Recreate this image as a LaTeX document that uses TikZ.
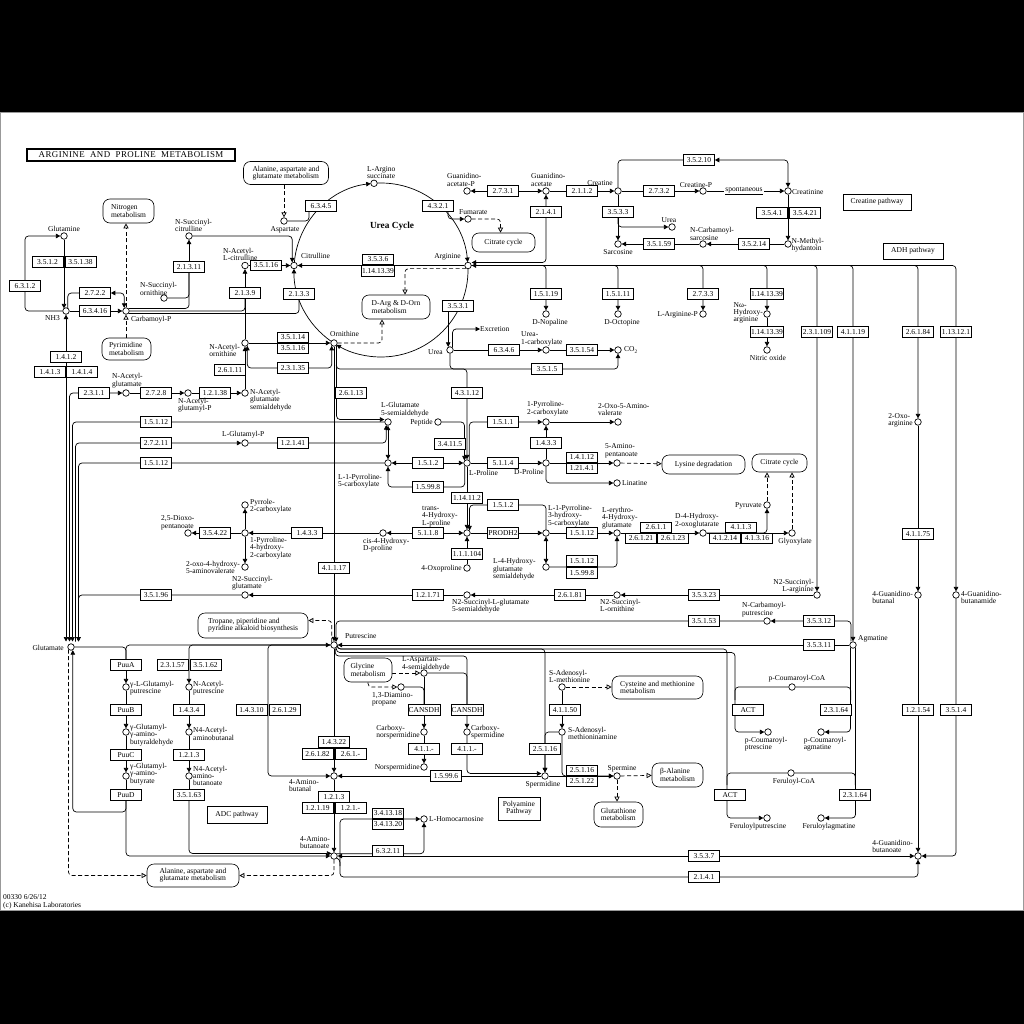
\documentclass[tikz,border=0pt]{standalone}
\usepackage{fontspec}
\setmainfont{Liberation Serif}
\newfontfamily\titlefont[LetterSpace=5]{Liberation Serif}
\usetikzlibrary{arrows.meta}
\pgfdeclarelayer{bg}
\pgfsetlayers{bg,main}
\newcommand\kf{\fontsize{7.5}{7.3}\selectfont}
\tikzset{
  enz/.style={draw, fill=white, line width=0.6pt, minimum width=31pt, minimum height=10.5pt, inner sep=0.5pt, font=\kf},
  cpd/.style={draw, circle, fill=white, line width=0.7pt, minimum size=6.5pt, inner sep=0pt},
  mapbox/.style={draw, fill=white, rounded corners=7pt, line width=0.6pt, align=left, inner sep=1pt, font=\kf},
  pbox/.style={draw, fill=white, line width=0.6pt, align=center, inner sep=2pt, font=\kf},
  lbl/.style={inner sep=0pt, font=\kf, align=left},
  ar/.style={-{Triangle[length=4.5pt,width=4.5pt]}},
  ar2/.style={{Triangle[length=4.5pt,width=4.5pt]}-{Triangle[length=4.5pt,width=4.5pt]}},
  dsh/.style={dash pattern=on 4pt off 2.5pt, -{Triangle[open,length=5pt,width=5pt]}},
  rc/.style={rounded corners=3.5pt}
}
\newcommand\cpdn[2]{\node[cpd] (#1) at (#2) {};}
\newcommand\ez[3]{\node[enz] (#1) at (#2) {#3};}
\newcommand\lb[4]{\node[lbl,anchor=#2] (#1) at (#3) {#4};}
\begin{document}
\begin{tikzpicture}[x=1pt,y=-1pt]
\useasboundingbox (0,0) rectangle (1024,1024);
\begin{pgfonlayer}{bg}
\fill[black] (0,0) rectangle (1024,112);
\fill[black] (0,911) rectangle (1024,1024);
\draw[black!40, line width=1pt] (0.5,112.5) rectangle (1023.5,910.5);
\end{pgfonlayer}

% ---------- title, maps, plain boxes
\node[draw, line width=1.8pt, minimum width=208pt, minimum height=12.5pt, inner sep=0pt, font=\titlefont\fontsize{8.9}{8.9}\selectfont] (title) at (131,155) {ARGININE\ \ AND\ \ PROLINE\ \ METABOLISM};
\node[mapbox, minimum width=85pt, minimum height=23pt] (mAAG1) at (286,173) {Alanine, aspartate and\\glutamate metabolism};
\node[mapbox, minimum width=51pt, minimum height=24pt] (mNit) at (128.5,211) {Nitrogen\\metabolism};
\node[mapbox, minimum width=49pt, minimum height=22pt] (mPyr) at (126.5,349) {Pyrimidine\\metabolism};
\node[mapbox, minimum width=68pt, minimum height=24pt] (mDArg) at (396,307) {D-Arg \& D-Orn\\metabolism};
\node[mapbox, minimum width=63pt, minimum height=19pt] (mCit1) at (503.5,242.5) {Citrate cycle};
\node[mapbox, minimum width=83pt, minimum height=19pt] (mLys) at (703.5,464.5) {Lysine degradation};
\node[mapbox, minimum width=55pt, minimum height=18pt] (mCit2) at (779.5,463) {Citrate cycle};
\node[mapbox, minimum width=110pt, minimum height=25pt] (mTrop) at (253,625.5) {Tropane, piperidine and\\pyridine alkaloid biosynthesis};
\node[mapbox, minimum width=48pt, minimum height=24pt] (mGly) at (368,670) {Glycine\\metabolism};
\node[mapbox, minimum width=91pt, minimum height=23pt] (mCys) at (657.5,687.5) {Cysteine and methionine\\metabolism};
\node[mapbox, minimum width=51pt, minimum height=24pt] (mBAla) at (677.5,775) {β-Alanine\\metabolism};
\node[mapbox, minimum width=49pt, minimum height=25pt] (mGlut) at (618.5,814.5) {Glutathione\\metabolism};
\node[mapbox, minimum width=92pt, minimum height=23pt] (mAAG2) at (193,875.5) {Alanine, aspartate and\\glutamate metabolism};
\node[pbox, minimum width=68pt, minimum height=16pt] (pCre) at (877,202) {Creatine pathway};
\node[pbox, minimum width=60pt, minimum height=16pt] (pADH) at (913,251) {ADH pathway};
\node[pbox, minimum width=60pt, minimum height=17pt] (pADC) at (237,814.5) {ADC pathway};
\node[pbox, minimum width=42pt, minimum height=23pt] (pPoly) at (519,808.5) {Polyamine\\Pathway};
\node[inner sep=0pt, font=\fontsize{9.3}{9.3}\selectfont\bfseries] (uct) at (392,226) {Urea Cycle};
\node[lbl, anchor=south west] (foot) at (3,909) {00330 6/26/12\\(c) Kanehisa Laboratories};
\node[lbl, anchor=west] (excr) at (480,329) {Excretion};
\node[lbl, fill=white, inner sep=1pt] (spont) at (744,191) {\underline{spontaneous}};
\coordinate (uc) at (381,270);

% ---------- compounds
\cpdn{gln}{64,236} \cpdn{nh3}{66,311} \cpdn{cp}{126,311} \cpdn{nscit}{189,236} \cpdn{nsorn}{164,298}
\cpdn{nacit}{245,265.5} \cpdn{nacorn}{245,343} \cpdn{cit}{294,265.5} \cpdn{asp}{284,221} \cpdn{argsuc}{374,183.3}
\cpdn{fum}{468,219} \cpdn{arg}{468,265.5} \cpdn{orn}{334,343} \cpdn{urea1}{450,350}
\cpdn{gaap}{467,191} \cpdn{gaa}{546,191} \cpdn{crt}{618,191} \cpdn{crtp}{703,191} \cpdn{crtn}{788,191}
\cpdn{sarc}{618,244} \cpdn{urea2}{672,227} \cpdn{ncs}{703,244} \cpdn{nmh}{788,244}
\cpdn{dnop}{546,314} \cpdn{doct}{618,314} \cpdn{argp}{703,314} \cpdn{nohar}{767,314} \cpdn{no}{767,350}
\cpdn{urcarb}{546,350} \cpdn{co2}{618,350}
\cpdn{nag}{126,393} \cpdn{nagp}{188,393} \cpdn{nags}{245,393} \cpdn{glup}{245,443} \cpdn{g5s}{388,422}
\cpdn{pep}{438,422} \cpdn{pro}{467,463} \cpdn{p5c}{388,463} \cpdn{p2c}{546,422} \cpdn{oxav}{618,422}
\cpdn{dpro}{546,463} \cpdn{amp}{617,463} \cpdn{lin}{617,483} \cpdn{pyr}{245,505} \cpdn{ph2c}{245,533}
\cpdn{dioxo}{188,533} \cpdn{ohav}{245,567} \cpdn{cis}{383,533} \cpdn{trans}{467,533} \cpdn{oxopro}{467,568}
\cpdn{lphc}{546,533} \cpdn{ehg}{617,533} \cpdn{hgs}{546,567} \cpdn{dhog}{703,533} \cpdn{pyrv}{767,505}
\cpdn{glyox}{792,533} \cpdn{nsglu}{245,595} \cpdn{nsgs}{467,595} \cpdn{nsorn2}{617,595} \cpdn{nsarg}{817,595}
\cpdn{oxarg}{918,422} \cpdn{gbal}{918,595} \cpdn{gbam}{956,595} \cpdn{agm}{853,645} \cpdn{ncput}{767,621}
\cpdn{put}{334,645} \cpdn{glu}{71,647}
\cpdn{glput}{126,687} \cpdn{ggab}{126,732} \cpdn{gga}{126,776} \cpdn{nacput}{189,687} \cpdn{naab}{189,732}
\cpdn{naabo}{189,776} \cpdn{gabal}{334,776} \cpdn{gaba}{334,856} \cpdn{hc}{424,819} \cpdn{asa}{424,673}
\cpdn{dap}{401,687} \cpdn{cnspd}{424,732} \cpdn{nspd}{424,767} \cpdn{cspd}{467,732} \cpdn{sam}{562,687}
\cpdn{dsam}{562,732} \cpdn{spd}{545,776} \cpdn{spm}{617,776} \cpdn{pcoa}{792,687} \cpdn{pcput}{768,732}
\cpdn{pcagm}{821,732} \cpdn{fcoa}{791,773} \cpdn{fput}{767,818} \cpdn{fagm}{821,818} \cpdn{gbut}{918,856}

% ---------- enzymes
\ez{e3512}{47.5,262}{3.5.1.2} \ez{e35138}{80.5,262}{3.5.1.38} \ez{e6312}{25,286}{6.3.1.2}
\ez{e2722}{95,293}{2.7.2.2} \ez{e63416}{95,311}{6.3.4.16} \ez{e1412}{66,357}{1.4.1.2}
\ez{e1413}{50,372}{1.4.1.3} \ez{e1414}{82,372}{1.4.1.4} \ez{e21311}{189,267}{2.1.3.11}
\ez{e35116a}{266,265.5}{3.5.1.16} \ez{e2139}{245,293}{2.1.3.9} \ez{e2133}{299,294}{2.1.3.3}
\ez{e6345}{321,206}{6.3.4.5} \ez{e4321}{438,206}{4.3.2.1} \ez{e3536}{378,259.5}{3.5.3.6}
\ez{e1141339c}{378,271}{1.14.13.39} \ez{e35114}{293,337.5}{3.5.1.14} \ez{e35116b}{293,348.5}{3.5.1.16}
\ez{e23135}{293,368}{2.3.1.35} \ez{e26111}{230,370}{2.6.1.11} \ez{e3531}{458,306}{3.5.3.1}
\ez{e6346}{504,350}{6.3.4.6} \ez{e35154}{582,350}{3.5.1.54} \ez{e3515}{547,369}{3.5.1.5}
\ez{e2731}{503,191}{2.7.3.1} \ez{e2112}{582,191}{2.1.1.2} \ez{e2732}{659,191}{2.7.3.2}
\ez{e35210}{699,160}{3.5.2.10} \ez{e3533}{618,212}{3.5.3.3} \ez{e3541}{772,213}{3.5.4.1}
\ez{e35421}{805,213}{3.5.4.21} \ez{e2141a}{546,212}{2.1.4.1} \ez{e35159}{659,244}{3.5.1.59}
\ez{e35214}{754,244}{3.5.2.14} \ez{e15119}{546,294}{1.5.1.19} \ez{e15111}{618,294}{1.5.1.11}
\ez{e2733}{703,294}{2.7.3.3} \ez{e1141339a}{767,294}{1.14.13.39} \ez{e1141339b}{767,332}{1.14.13.39}
\ez{e231109}{817,332}{2.3.1.109} \ez{e41119}{853,332}{4.1.1.19} \ez{e26184}{918,332}{2.6.1.84}
\ez{e113121}{956,332}{1.13.12.1}
\ez{e2311}{94,393}{2.3.1.1} \ez{e2728}{156,393}{2.7.2.8} \ez{e12138}{215,393}{1.2.1.38}
\ez{e15112a}{156,422}{1.5.1.12} \ez{e27211}{156,443}{2.7.2.11} \ez{e15112b}{156,463}{1.5.1.12}
\ez{e12141}{293,443}{1.2.1.41} \ez{e26113}{351,393}{2.6.1.13} \ez{e43112}{467,393}{4.3.1.12}
\ez{e34115}{450,444}{3.4.11.5} \ez{e1512a}{428,463}{1.5.1.2} \ez{e15998a}{428,487}{1.5.99.8}
\ez{e1511}{503,422}{1.5.1.1} \ez{e5114}{503,463}{5.1.1.4} \ez{e1433b}{546,443}{1.4.3.3}
\ez{e14112}{582,457.5}{1.4.1.12} \ez{e12141b}{582,468.5}{1.21.4.1} \ez{e1512b}{503,505}{1.5.1.2}
\ez{e14112b}{467,498}{1.14.11.2} \ez{e11104}{467,554}{1.1.1.104} \ez{e1433a}{307,533}{1.4.3.3}
\ez{e35422}{215,533}{3.5.4.22} \ez{e5118}{428,533}{5.1.1.8} \ez{eprodh}{503,533}{PRODH2}
\ez{e15112c}{582,533}{1.5.1.12} \ez{e15112d}{582,561}{1.5.1.12} \ez{e15998b}{582,573}{1.5.99.8}
\ez{e2611}{656,527.5}{2.6.1.1} \ez{e26121}{641,538.5}{2.6.1.21} \ez{e26123}{673,538.5}{2.6.1.23}
\ez{e4113}{741,527.5}{4.1.1.3} \ez{e41214}{725,538.5}{4.1.2.14} \ez{e41316}{757,538.5}{4.1.3.16}
\ez{e12171}{428,595}{1.2.1.71} \ez{e35196}{156,595}{3.5.1.96} \ez{e26181}{570,595}{2.6.1.81}
\ez{e35323}{704,595}{3.5.3.23} \ez{e4175}{918,534}{4.1.1.75} \ez{e41117}{334,568}{4.1.1.17}
\ez{e35153}{704,621}{3.5.1.53} \ez{e35312}{819,621}{3.5.3.12} \ez{e35311}{819,645}{3.5.3.11}
\ez{puua}{126,665}{PuuA} \ez{puub}{126,710}{PuuB} \ez{puuc}{126,755}{PuuC} \ez{puud}{126,795}{PuuD}
\ez{e23157}{172.5,665}{2.3.1.57} \ez{e35162}{205.5,665}{3.5.1.62} \ez{e1434}{189,710}{1.4.3.4}
\ez{e1213a}{189,755}{1.2.1.3} \ez{e35163}{189,795}{3.5.1.63} \ez{e14310}{251.5,710}{1.4.3.10}
\ez{e26129}{284.5,710}{2.6.1.29} \ez{e14322}{334,742}{1.4.3.22} \ez{e26182}{317.5,754}{2.6.1.82}
\ez{e2611x}{350.5,754}{2.6.1.-} \ez{e1213b}{334,797}{1.2.1.3} \ez{e12119}{317.5,808}{1.2.1.19}
\ez{e121x}{350.5,808}{1.2.1.-} \ez{e341318}{388,813.5}{3.4.13.18} \ez{e341320}{388,824.5}{3.4.13.20}
\ez{e63211}{388,851}{6.3.2.11} \ez{e15996}{446,776}{1.5.99.6} \ez{cansdh1}{424,710}{CANSDH}
\ez{cansdh2}{467,710}{CANSDH} \ez{e411a}{424,749}{4.1.1.-} \ez{e411b}{467,749}{4.1.1.-}
\ez{e41150}{565,710}{4.1.1.50} \ez{e25116a}{545,749}{2.5.1.16} \ez{e25116b}{582,770.5}{2.5.1.16}
\ez{e25122}{582,781.5}{2.5.1.22} \ez{act1}{748,710}{ACT} \ez{act2}{730,795}{ACT}
\ez{e23164a}{836,710}{2.3.1.64} \ez{e23164b}{855,795}{2.3.1.64} \ez{e12154}{918,710}{1.2.1.54}
\ez{e3514}{956,710}{3.5.1.4} \ez{e3537}{704,856}{3.5.3.7} \ez{e2141b}{704,877}{2.1.4.1}

% ---------- compound labels
\lb{lgln}{south}{64,231.5}{Glutamine}
\lb{lnh3}{east}{60,318.5}{NH3}
\lb{lcp}{west}{131,319.5}{Carbamoyl-P}
\lb{lnscit}{south west}{175,232}{N-Succinyl-\\citrulline}
\lb{lnsorn}{south west}{140,295.5}{N-Succinyl-\\ornithine}
\lb{lnacit}{south west}{223,261}{N-Acetyl-\\L-citrulline}
\lb{lnacorn}{north east}{240,344}{N-Acetyl-\\ornithine}
\lb{lcit}{west}{301,256}{Citrulline}
\lb{lasp}{north}{285,226}{Aspartate}
\lb{largsuc}{south west}{367,179}{L-Argino\\succinate}
\lb{lfum}{south west}{459,215}{Fumarate}
\lb{larg}{south east}{461,260.5}{Arginine}
\lb{lorn}{south west}{330,337}{Ornithine}
\lb{lurea1}{east}{443,352}{Urea}
\lb{lgaap}{south west}{447,186.5}{Guanidino-\\acetate-P}
\lb{lgaa}{south west}{531,186.5}{Guanidino-\\acetate}
\lb{lcrt}{south east}{613,185.5}{Creatine}
\lb{lcrtp}{south}{696,187.5}{Creatine-P}
\lb{lcrtn}{west}{792,192}{Creatinine}
\lb{lsarc}{north}{618,249.5}{Sarcosine}
\lb{lurea2}{south}{669,222.5}{Urea}
\lb{lncs}{south west}{690,240.5}{N-Carbamoyl-\\sarcosine}
\lb{lnmh}{west}{791.5,245}{N-Methyl-\\hydantoin}
\lb{ldnop}{north}{550,319.5}{D-Nopaline}
\lb{ldoct}{north}{622,319.5}{D-Octopine}
\lb{largp}{east}{698,314.5}{L-Arginine-P}
\lb{lnohar}{east}{763,313}{Nω-\\Hydroxy-\\arginine}
\lb{lno}{north}{768,355}{Nitric oxide}
\lb{lurcarb}{south west}{521,346}{Urea-\\1-carboxylate}
\lb{lco2}{west}{624,350}{CO\textsubscript{2}}
\lb{lnag}{south west}{112,388}{N-Acetyl-\\glutamate}
\lb{lnagp}{north west}{178,398}{N-Acetyl-\\glutamyl-P}
\lb{lnags}{north west}{250,389}{N-Acetyl-\\glutamate\\semialdehyde}
\lb{lglup}{south west}{222,438.5}{L-Glutamyl-P}
\lb{lg5s}{south west}{381,417}{L-Glutamate\\5-semialdehyde}
\lb{lpep}{east}{433,422.5}{Peptide}
\lb{lpro}{north west}{469,470}{L-Proline}
\lb{lp5c}{north west}{338,474}{L-1-Pyrroline-\\5-carboxylate}
\lb{lp2c}{south west}{527,416}{1-Pyrroline-\\2-carboxylate}
\lb{loxav}{south west}{598,416}{2-Oxo-5-Amino-\\valerate}
\lb{ldpro}{north east}{544,469.5}{D-Proline}
\lb{lamp}{south west}{605,458}{5-Amino-\\pentanoate}
\lb{llin}{west}{622,483.5}{Linatine}
\lb{lpyr}{west}{250,506}{Pyrrole-\\2-carboxylate}
\lb{lph2c}{north west}{250,537}{1-Pyrroline-\\4-hydroxy-\\2-carboxylate}
\lb{ldioxo}{south west}{161,530}{2,5-Dioxo-\\pentanoate}
\lb{lohav}{east}{240,567.5}{2-oxo-4-hydroxy-\\5-aminovalerate}
\lb{lcis}{north west}{363,538}{cis-4-Hydroxy-\\D-proline}
\lb{ltrans}{south west}{422,527}{trans-\\4-Hydroxy-\\L-proline}
\lb{loxopro}{east}{462,568.5}{4-Oxoproline}
\lb{llphc}{south west}{548,527}{L-1-Pyrroline-\\3-hydroxy-\\5-carboxylate}
\lb{lehg}{south west}{602,529}{L-erythro-\\4-Hydroxy-\\glutamate}
\lb{lhgs}{north west}{493,558.5}{L-4-Hydroxy-\\glutamate\\semialdehyde}
\lb{ldhog}{south west}{675,528}{D-4-Hydroxy-\\2-oxoglutarate}
\lb{lpyrv}{east}{762,505.5}{Pyruvate}
\lb{lglyox}{north}{795,538}{Glyoxylate}
\lb{lnsglu}{south west}{232,590.5}{N2-Succinyl-\\glutamate}
\lb{lnsgs}{north west}{452,599}{N2-Succinyl-L-glutamate\\5-semialdehyde}
\lb{lnsorn2}{north west}{600,599}{N2-Succinyl-\\L-ornithine}
\node[lbl, align=right, anchor=south east] (lnsarg) at (814,593.5) {N2-Succinyl-\\L-arginine};
\lb{loxarg}{east}{913,420.5}{2-Oxo-\\arginine}
\lb{lgbal}{east}{913,597.5}{4-Guanidino-\\butanal}
\lb{lgbam}{west}{961,597.5}{4-Guanidino-\\butanamide}
\lb{lagm}{west}{858,638.5}{Agmatine}
\lb{lncput}{south west}{742,617}{N-Carbamoyl-\\putrescine}
\lb{lput}{west}{345,636}{Putrescine}
\lb{lglu}{east}{64,648}{Glutamate}
\lb{lglput}{west}{130,688}{γ-L-Glutamyl-\\putrescine}
\lb{lggab}{west}{130,735}{γ-Glutamyl-\\γ-amino-\\butyraldehyde}
\lb{lgga}{west}{130,774}{γ-Glutamyl-\\γ-amino-\\butyrate}
\lb{lnacput}{west}{193,688}{N-Acetyl-\\putrescine}
\lb{lnaab}{west}{193,734}{N4-Acetyl-\\aminobutanal}
\lb{lnaabo}{west}{193,776}{N4-Acetyl-\\amino-\\butanoate}
\lb{lgabal}{north east}{319,779}{4-Amino-\\butanal}
\lb{lgaba}{south east}{330,849}{4-Amino-\\butanoate}
\lb{lhc}{west}{429,819.5}{L-Homocarnosine}
\lb{lasa}{south west}{402,671}{L-Aspartate-\\4-semialdehyde}
\lb{ldap}{north west}{372,692}{1,3-Diamino-\\propane}
\lb{lcnspd}{east}{420,732.5}{Carboxy-\\norspermidine}
\lb{lnspd}{east}{420,767.5}{Norspermidine}
\lb{lcspd}{west}{471,732.5}{Carboxy-\\spermidine}
\lb{lsam}{south west}{549,683}{S-Adenosyl-\\L-methionine}
\lb{ldsam}{west}{568,733.5}{S-Adenosyl-\\methioninamine}
\lb{lspd}{north}{543,781}{Spermidine}
\lb{lspm}{south}{622,772}{Spermine}
\lb{lpcoa}{south}{797,682.5}{p-Coumaroyl-CoA}
\lb{lpcput}{north}{766,737}{p-Coumaroyl-\\ptrescine}
\lb{lpcagm}{north}{825,737}{p-Coumaroyl-\\agmatine}
\lb{lfcoa}{north}{794,778}{Feruloyl-CoA}
\lb{lfput}{north}{758,823}{Feruloylputrescine}
\lb{lfagm}{north}{829,823}{Feruloylagmatine}
\lb{lgbut}{south east}{913,853}{4-Guanidino-\\butanoate}

\coordinate (g1) at (66,641.5);
\coordinate (g2) at (69.5,641.5);
\coordinate (g3) at (72.5,641.5);
\coordinate (g4) at (75.5,641.5);
\coordinate (g5) at (78.5,641.5);
\coordinate (hcj) at (340,866);

% ---------- connectors
\begin{pgfonlayer}{bg}
\begin{scope}[line width=0.7pt]
% urea cycle
\draw[ar] ([shift={(185.2:87)}]uc) arc[start angle=185.2, end angle=263.2, radius=87];
\draw[ar] ([shift={(267.6:87)}]uc) arc[start angle=267.6, end angle=354.8, radius=87];
\draw[ar] ([shift={(359.2:87)}]uc) arc[start angle=359.2, end angle=480.8, radius=87];
\draw[ar] ([shift={(125.2:87)}]uc) arc[start angle=125.2, end angle=180.8, radius=87];
\draw[rc] (asp.east) -| ([xshift=-12pt]e6345.south);
\draw[dsh] (mAAG1.south -| asp) -- (asp.north);
\draw[ar, rc] ([xshift=10pt]e4321.south) |- (fum.west);
\draw[dsh, rc] (fum.east) -| ([xshift=-3pt]mCit1.north);
\draw[ar] (arg) -- (cit);
\draw[dsh, rc] (arg.-120) -| ([xshift=9pt]mDArg.north);
\draw[dsh, rc] (orn.east) -| ([xshift=-14pt]mDArg.south);
\draw[ar] (e3531.south -| urea1.120) -- (urea1.120);
\draw[ar, rc] (urea1.north east) |- (excr.west);
\draw[ar] (urea1) -- (urcarb);
\draw[ar] (urcarb) -- (co2);
\draw[ar, rc] (urea1.south) |- (e3515) -| (co2.south);
% top left
\draw[ar] (gln.south) -- (gln.south |- nh3.north west);
\draw[ar, rc] (nh3.west) -- (25,311) -- (25,236) -- (gln.west);
\draw[ar2, rc] (nh3.60) |- (e2722) -| (cp.120);
\draw[ar] (nh3) -- (cp);
\draw[dsh] (cp.north) -- (cp.north |- mNit.south);
\draw[dsh] (cp |- mPyr.north) -- (cp.south);
\draw[ar2] (g1) -- (nh3);
\draw[rc] (nsorn.east) -| (e21311.south);
\draw[rc] (cp.north east) -| (e21311.south);
\draw[ar] (e21311) -- (nscit);
\draw[rc] (cp.east) -| (e2139.south);
\draw[ar] (nacorn) -- (nacit);
\draw[rc] (cp.south east) -| (e2133.south);
\draw[ar] (nacit) -- (cit);
\draw[ar, rc] (nscit.east) -| (cit.120);
\draw[ar] (nags) -- (nacorn);
\draw[ar] (nacorn) -- (orn);
\draw[ar, rc] (e23135.west) -| (nacorn.-50);
\draw[ar, rc] (e23135.east) -| (orn.-130);
\draw[ar2, rc] (g2) |- (nag.west);
\draw[ar] (nag) -- (nagp);
\draw[ar] (nagp) -- (nags);
% creatine
\draw[ar2] (gaap) -- (gaa);
\draw[ar] (gaa) -- (crt);
\draw[ar] (crt) -- (crtp);
\draw[ar] (crtp) -- (crtn);
\draw[ar2, rc] (crt.north) |- (e35210) -| (crtn.north);
\draw[ar] (crt) -- (sarc);
\draw[ar, rc] (e3533.south) |- (urea2.west);
\draw[ar] (crtn) -- (nmh);
\draw[ar] (nmh) -- (ncs);
\draw[ar] (ncs) -- (sarc);
\draw[ar2, rc] (gaa.south) |- ([yshift=3pt]arg.east);
% arginine branches
\draw[ar2, rc] (arg.east) -| (dnop);
\draw[ar, rc] (arg.east) -| (doct);
\draw[ar, rc] (arg.east) -| (argp);
\draw[ar, rc] (arg.east) -| (nohar);
\draw[ar, rc] (arg.east) -| (nsarg);
\draw[ar, rc] (arg.east) -| (agm);
\draw[ar, rc] (arg.east) -| (oxarg);
\draw[ar, rc] (arg.east) -| (gbam);
\draw[ar] (nohar) -- (no);
\draw[ar] (oxarg) -- (gbal);
\draw[ar] (gbal) -- (gbut);
\draw[ar, rc] (gbam.south) |- (gbut.east);
\draw[ar] (nsarg) -- (nsorn2);
\draw[ar] (nsorn2) -- (nsgs);
\draw[ar] (nsgs) -- (nsglu);
\draw[ar, rc] (nsglu.west) -| (g5);
\draw[ar, rc] ([xshift=-2pt]agm.north) |- (ncput.east);
\draw[ar, rc] (ncput.west) -| (put.55);
\draw[ar] (agm) -- (put);
% ornithine / proline
\draw[ar] (orn) -- (put);
\draw[ar, rc] (orn.-45) |- ([yshift=2.5pt]g5s.west);
\draw[ar, rc] (orn.-45) -- (336.3,369) -- (467,369) -- (pro.north);
\draw[ar, rc] (g5s.west) -| (g3);
\draw[ar, rc] (g4) |- (glup.west);
\draw[ar, rc] (glup.east) -| (g5s.-120);
\draw[ar, rc] (p5c.west) -| (g5);
\draw[ar2] (g5s) -- (p5c);
\draw[ar2] (p5c) -- (pro);
\draw[ar, rc] (pro.-130) |- (e15998a) -| (p5c.south);
\draw[ar, rc] (pep.east) -| (pro.north west);
\draw[ar, rc] (pro.50) |- (p2c.west);
\draw[ar] (p2c) -- (oxav);
\draw[ar] (pro) -- (dpro);
\draw[ar] (dpro) -- (p2c);
\draw[ar] (dpro) -- (amp);
\draw[dsh] (amp) -- (mLys);
\draw[ar, rc] (dpro.south) |- (lin);
\draw[ar] (pro) -- (trans);
\draw[ar, rc] (lphc.north) |- (e1512b) -| (trans.north east);
\draw[ar2] (trans) -- (cis);
\draw[ar] (cis) -- (ph2c);
\draw[ar] (ph2c) -- (pyr);
\draw[ar] (ph2c) -- (ohav);
\draw[ar] (ph2c) -- (dioxo);
\draw[ar] (oxopro) -- (trans);
\draw[ar] (trans) -- (lphc);
\draw[ar2] (lphc) -- (hgs);
\draw[ar] (lphc) -- (ehg);
\draw[ar, rc] (hgs) -| (ehg);
\draw[ar] (ehg) -- (dhog);
\draw[ar, rc] (dhog) -| (pyrv);
\draw[ar] (dhog) -- (glyox);
\draw[dsh] (pyrv) -- (pyrv |- mCit2.south);
\draw[dsh] (glyox) -- (glyox |- mCit2.south);
% putrescine
\draw[dsh, rc] (put.130) |- ([yshift=5pt]mTrop.east);
\draw[rc] (glu.east) -| (puua.north);
\draw[ar, rc] (puua.north) |- (put.west);
\draw[ar] (puua) -- (glput);
\draw[ar] (glput) -- (ggab);
\draw[ar] (ggab) -- (gga);
\draw (gga) -- (puud);
\draw[ar, rc] (puud.south) -- (126,812) -| (glu.-60);
\draw[ar, rc] (puud.south) |- (gaba.west);
\draw[ar, rc] (put.west) -| (nacput);
\draw[ar] (nacput) -- (naab);
\draw[ar] (naab) -- (naabo);
\draw (naabo) -- (e35163);
\draw[ar, rc] (e35163.south) |- (gaba.north west);
\draw[ar, rc] (put.west) -- (268,645) -- (268,776) -- (gabal.west);
\draw[ar] (put) -- (gabal);
\draw[ar] (gabal) -- (gaba);
\draw[dsh, rc] (glu.south west) |- (mAAG2.west);
\draw[dsh, rc] (gaba.south) |- (mAAG2.east);
\draw[ar2] (gaba) -- (gbut);
\draw[ar, rc] (gaba.-35) -- (340,859) -- (340,877) -- (918,877) -- (gbut.south);
\draw[ar, rc] (hcj) -- (340,819) -- (hc.west);
\draw[ar, rc] (gaba.40) -| (hc.south);
% polyamines
\draw[ar, rc] (put.-30) |- (545,649) -- (spd.north);
\draw[ar, rc] (put.-30) |- (727,649) -- (727,818) -- (fput.west);
\draw[ar, rc] (put.-50) |- (735,652.5) -- (735,732) -- (pcput.west);
\draw[ar, rc] (put.-70) |- (467,656) -- (cspd.north);
\draw[rc] (asa.east) -| (cansdh2.north);
\draw[ar] (asa) -- (cnspd);
\draw[rc] (dap.east) -| (cansdh1.north);
\draw[ar] (cnspd) -- (nspd);
\draw[dsh] (mGly.east |- asa) -- (asa);
\draw[dsh, rc] (mGly.south) |- (dap.west);
\draw[ar, rc] (cspd.south) |- ([yshift=2.5pt]spd.west);
\draw[ar] (spd) -- (gabal);
\draw[ar, rc] (dsam.west) -| (spd.north);
\draw[ar] (sam) -- (dsam);
\draw[dsh] (sam) -- (sam -| mCys.west);
\draw[ar, rc] (dsam.south) |- (spm.west);
\draw[ar] (spd) -- (spm);
\draw[dsh] (spm) -- (mBAla);
\draw[dsh] (spm) -- (spm |- mGlut.north);
% coumaroyl / feruloyl
\draw[rc] (pcoa.west) -| (735,700);
\draw[rc] (fcoa.west) -| (727,785);
\draw[rc] (pcoa.east) -| (850.7,700);
\draw[ar, rc] (agm.south west) |- (pcagm.east);
\draw[rc] (fcoa.east) -| (855.3,785);
\draw[ar, rc] (agm.south east) |- (fagm.east);
\end{scope}
\end{pgfonlayer}
\end{tikzpicture}
\end{document}
